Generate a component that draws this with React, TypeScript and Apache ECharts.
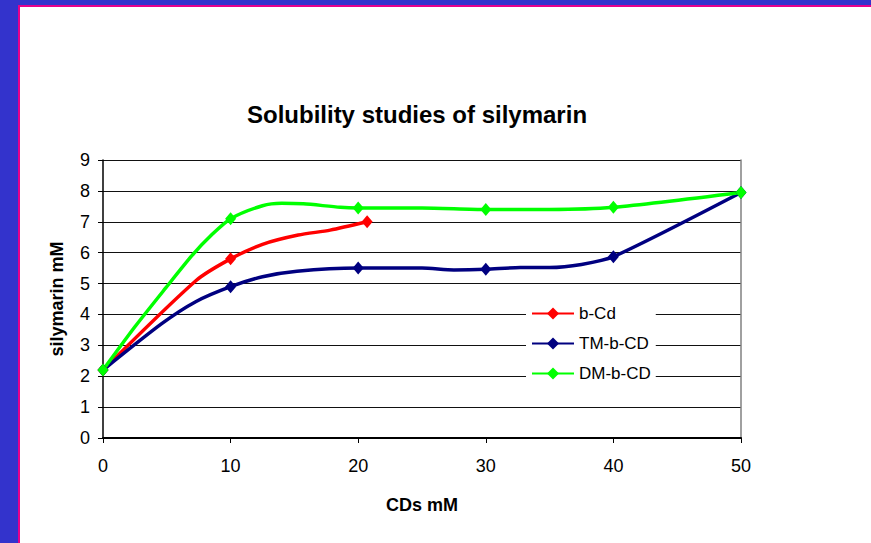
import React, { useEffect, useRef } from "react";
import * as echarts from "echarts";

const titleText = "Solubility studies of silymarin";
const xName = "CDs mM";
const yName = "silymarin mM";

const bcdName = "b-Cd";
const bcdX = [0, 7.3, 10, 12.5, 15.3, 17.8, 20.7];
const bcdY = [2.2, 5.1, 5.8, 6.27, 6.57, 6.73, 7.0];
const bcdMarked = [true, false, true, false, false, false, true];

const tmName = "TM-b-CD";
const tmX = [0, 4.6, 7.3, 10, 12.5, 15.2, 20, 25, 27.5, 30, 32.7, 35, 37.5, 40, 50];
const tmY = [2.2, 3.7, 4.42, 4.9, 5.22, 5.4, 5.5, 5.5, 5.44, 5.46, 5.52, 5.52, 5.62, 5.87, 7.95];
const tmMarked = [true, false, false, true, false, false, true, false, false, true, false, false, false, true, true];

const dmName = "DM-b-CD";
const dmX = [0, 2.5, 4.9, 7, 8.5, 10, 12.5, 14, 15.7, 18.6, 20, 25, 30, 35, 40, 50];
const dmY = [2.2, 3.6, 4.85, 5.92, 6.57, 7.1, 7.52, 7.6, 7.58, 7.47, 7.45, 7.45, 7.4, 7.4, 7.47, 7.95];
const dmMarked = [true, false, false, false, false, true, false, false, false, false, true, false, true, false, true, true];

const FONT = "'Liberation Sans', Arial, sans-serif";

function build(xs: number[], ys: number[], marked: boolean[]) {
  return xs.map((x, i) => ({
    value: [x, ys[i]],
    symbol: marked[i] ? "diamond" : "none",
  }));
}

function mkSeries(name: string, color: string, xs: number[], ys: number[], marked: boolean[]) {
  return {
    name,
    type: "line",
    data: build(xs, ys, marked),
    smooth: 0.25,
    symbol: "diamond",
    symbolSize: [11, 13],
    showAllSymbol: true,
    lineStyle: { color, width: 3.5 },
    itemStyle: { color },
    yAxisIndex: 0,
  };
}

export default function App() {
  const ref = useRef<HTMLDivElement>(null);
  useEffect(() => {
    if (!ref.current) return;
    const chart = echarts.init(ref.current, undefined, { renderer: "svg" });
    chart.setOption({
      animation: false,
      textStyle: { fontFamily: FONT },
      title: {
        text: titleText,
        left: 412,
        textAlign: "center",
        top: 97,
        textStyle: { fontFamily: FONT, fontSize: 24, fontWeight: "bold", color: "#000" },
      },
      legend: {
        orient: "vertical",
        left: 526,
        top: 300,
        padding: 5,
        backgroundColor: "#fff",
        itemWidth: 42,
        itemHeight: 15,
        itemGap: 13,
        textStyle: { fontFamily: FONT, fontSize: 17, color: "#000" },
        data: [bcdName, tmName, dmName],
      },
      grid: { left: 103, right: 130, top: 160, bottom: 105, containLabel: false },
      xAxis: {
        type: "value",
        min: 0,
        max: 50,
        interval: 10,
        name: xName,
        nameLocation: "middle",
        nameGap: 58,
        nameTextStyle: { fontFamily: FONT, fontSize: 18, fontWeight: "bold", color: "#000" },
        axisLine: { show: true, lineStyle: { color: "#000", width: 2 } },
        axisTick: { show: true, length: 5, lineStyle: { color: "#000" } },
        axisLabel: { fontFamily: FONT, fontSize: 18, color: "#000", margin: 19 },
        splitLine: { show: false },
      },
      yAxis: [
        {
          type: "value",
          min: 0,
          max: 9,
          interval: 1,
          name: yName,
          nameLocation: "middle",
          nameGap: 37,
          nameTextStyle: { fontFamily: FONT, fontSize: 18, fontWeight: "bold", color: "#000" },
          axisLine: { show: true, lineStyle: { color: "#000", width: 1.5 } },
          axisTick: { show: true, length: 5, lineStyle: { color: "#000" } },
          axisLabel: { fontFamily: FONT, fontSize: 18, color: "#000", margin: 13 },
          splitLine: { show: true, lineStyle: { color: "#111", width: 1 } },
        },
        {
          type: "value",
          min: 0,
          max: 9,
          interval: 1,
          position: "right",
          axisLine: { show: true, lineStyle: { color: "#808080", width: 1.5 } },
          axisTick: { show: false },
          axisLabel: { show: false },
          splitLine: { show: false },
        },
      ],
      series: [
        mkSeries(bcdName, "#ff0000", bcdX, bcdY, bcdMarked),
        mkSeries(tmName, "#000080", tmX, tmY, tmMarked),
        mkSeries(dmName, "#00ff00", dmX, dmY, dmMarked),
      ],
    });
    return () => chart.dispose();
  }, []);

  return (
    <div style={{ position: "fixed", left: 0, top: 0, width: 871, height: 543, background: "#3333cc", overflow: "hidden" }}>
      <div style={{ position: "absolute", left: 18, top: 5, right: 0, bottom: 0, background: "#e6008c" }} />
      <div style={{ position: "absolute", left: 20, top: 7, right: 0, bottom: 0, background: "#ffffff" }} />
      <div ref={ref} style={{ position: "absolute", left: 0, top: 0, width: 871, height: 543 }} />
    </div>
  );
}
